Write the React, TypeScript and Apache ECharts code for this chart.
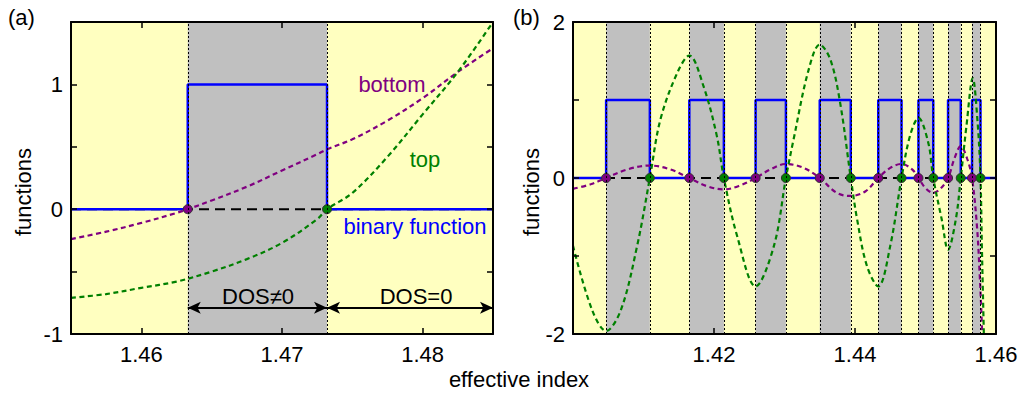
import React, { useEffect, useRef } from "react";
import * as echarts from "echarts";

// ---------- Panel (a) ----------
const aXRange = [1.455, 1.485];
const aYRange = [-1, 1.5];
const aXTicks = [1.46, 1.47, 1.48];
const aYTicks = [-1, -0.5, 0, 0.5, 1];
const aYLabels = [-1, 0, 1];
const aBand = [1.4633, 1.4732]; // bottom zero, top zero
const aArrowY = -0.79;

const aBottomX = [1.455, 1.4575, 1.46, 1.4625, 1.4633, 1.465, 1.4675, 1.47, 1.4725, 1.4732, 1.475, 1.4775, 1.48, 1.4825, 1.485];
const aBottomY = [-0.24, -0.18, -0.11, -0.03, 0, 0.07, 0.18, 0.31, 0.44, 0.48, 0.56, 0.71, 0.89, 1.1, 1.29];

const aTopX = [1.455, 1.4575, 1.46, 1.4625, 1.465, 1.4675, 1.47, 1.4725, 1.4732, 1.475, 1.4775, 1.48, 1.4825, 1.485];
const aTopY = [-0.71, -0.68, -0.63, -0.58, -0.5, -0.4, -0.27, -0.08, 0, 0.13, 0.42, 0.76, 1.1, 1.5];

// ---------- Panel (b) ----------
const bXRange = [1.4, 1.46];
const bYRange = [-2, 2];
const bXTicks = [1.42, 1.44, 1.46];
const bYTicks = [-2, -1, 0, 1, 2];
const bYLabels = [-2, 0, 2];
const bBottomZeros = [1.4047, 1.4165, 1.4259, 1.435, 1.4433, 1.449, 1.4532, 1.4566];
const bTopZeros = [1.4109, 1.4214, 1.4302, 1.4394, 1.4466, 1.4511, 1.455, 1.4578];

const bTopX = [1.4, 1.4027, 1.4047, 1.4068, 1.4091, 1.4109, 1.4124, 1.4148, 1.4165, 1.4185, 1.4204, 1.4214, 1.4233, 1.4259, 1.4285, 1.4302, 1.4313, 1.4334, 1.435, 1.4365, 1.4379, 1.4394, 1.4403, 1.4417, 1.4433, 1.445, 1.4466, 1.4478, 1.449, 1.4504, 1.4511, 1.4523, 1.4532, 1.4543, 1.455, 1.4558, 1.4567, 1.4574, 1.4578, 1.458, 1.4582, 1.4584];
const bTopY = [-0.87, -1.69, -1.96, -1.69, -0.87, 0, 0.75, 1.35, 1.57, 1.18, 0.54, 0, -0.75, -1.39, -0.87, 0, 0.5, 1.38, 1.71, 1.52, 0.96, 0, -0.53, -1.13, -1.39, -0.87, 0, 0.54, 0.77, 0.45, 0, -0.53, -0.92, -0.53, 0, 0.66, 1.28, 0.7, 0, -0.9, -1.7, -2.5];

const bBottomX = [1.4, 1.4025, 1.4047, 1.4077, 1.4109, 1.4138, 1.4165, 1.419, 1.4214, 1.4237, 1.4259, 1.428, 1.4302, 1.4327, 1.435, 1.4374, 1.4394, 1.4415, 1.4433, 1.445, 1.4466, 1.4481, 1.449, 1.45, 1.4511, 1.4521, 1.4532, 1.4541, 1.455, 1.4559, 1.4566, 1.4573, 1.4577, 1.458, 1.4582];
const bBottomY = [-0.14, -0.08, 0, 0.11, 0.16, 0.11, 0, -0.105, -0.147, -0.096, 0, 0.11, 0.18, 0.13, 0, -0.19, -0.23, -0.17, 0, 0.13, 0.18, 0.11, 0, -0.13, -0.19, -0.14, 0, 0.25, 0.41, 0.25, 0, -0.62, -1.26, -1.9, -2.6];

// ---------- styles ----------
const FONT = "'Liberation Sans', Arial, Helvetica, sans-serif";
const YELLOW = "#FFFFC0";
const GRAY = "#C0C0C0";
const BLUE = "#0000FF";
const PURPLE = "#800080";
const GREEN = "#008000";

const zip = (xs: number[], ys: number[]) => xs.map((x, i) => [x, ys[i]]);

function binary(range: number[], lefts: number[], rights: number[]) {
  const pts: number[][] = [[range[0], 0]];
  lefts.forEach((l, i) => {
    const r = rights[i];
    pts.push([l, 0], [l, 1], [r, 1], [r, 0]);
  });
  pts.push([range[1], 0]);
  return pts;
}

function xAxes(gridIndex: number, range: number[], ticks: number[], labels: number[]) {
  const common = {
    type: "value",
    gridIndex,
    min: range[0],
    max: range[1],
    z: 10,
    splitLine: { show: false },
    axisLine: { show: true, onZero: false, lineStyle: { color: "#000", width: 2 } },
    axisTick: { show: true, inside: true, length: 6, customValues: ticks, lineStyle: { color: "#000", width: 1.5 } },
  };
  return [
    {
      ...common,
      position: "bottom",
      axisLabel: {
        show: true,
        customValues: labels,
        formatter: (v: number) => v.toFixed(2),
        fontSize: 22,
        fontFamily: FONT,
        color: "#000",
        margin: 9,
      },
    },
    { ...common, position: "top", axisLabel: { show: false } },
  ];
}

function yAxes(gridIndex: number, range: number[], ticks: number[], labels: number[]) {
  const common = {
    type: "value",
    gridIndex,
    min: range[0],
    max: range[1],
    z: 10,
    splitLine: { show: false },
    axisLine: { show: true, onZero: false, lineStyle: { color: "#000", width: 2 } },
    axisTick: { show: true, inside: true, length: 6, customValues: ticks, lineStyle: { color: "#000", width: 1.5 } },
  };
  return [
    {
      ...common,
      position: "left",
      axisLabel: {
        show: true,
        customValues: labels,
        formatter: (v: number) => String(v),
        fontSize: 22,
        fontFamily: FONT,
        color: "#000",
        margin: 8,
      },
    },
    { ...common, position: "right", axisLabel: { show: false } },
  ];
}

function panelSeries(
  xi: number,
  yi: number,
  range: number[],
  lefts: number[],
  rights: number[],
  bottom: number[][],
  top: number[][]
) {
  const edges = [...lefts, ...rights];
  return [
    {
      type: "line",
      xAxisIndex: xi,
      yAxisIndex: yi,
      z: 1,
      silent: true,
      symbol: "none",
      data: [[range[0], 0], [range[1], 0]],
      lineStyle: { color: "#000", width: 2, type: [10, 6] },
      markArea: {
        silent: true,
        itemStyle: { color: GRAY },
        data: lefts.map((l, i) => [{ xAxis: l }, { xAxis: rights[i] }]),
      },
      markLine: {
        silent: true,
        precision: 6,
        symbol: "none",
        label: { show: false },
        lineStyle: { color: "#000", width: 1, type: [2, 2] },
        data: edges.map((x) => ({ xAxis: x })),
      },
    },
    {
      type: "line",
      xAxisIndex: xi,
      yAxisIndex: yi,
      z: 2,
      silent: true,
      symbol: "none",
      data: binary(range, lefts, rights),
      lineStyle: { color: BLUE, width: 2.5 },
    },
    {
      type: "line",
      xAxisIndex: xi,
      yAxisIndex: yi,
      z: 3,
      silent: true,
      symbol: "none",
      smooth: 0.35,
      data: bottom,
      lineStyle: { color: PURPLE, width: 2.2, type: [5, 3.5] },
    },
    {
      type: "line",
      xAxisIndex: xi,
      yAxisIndex: yi,
      z: 3,
      silent: true,
      symbol: "none",
      smooth: 0.35,
      data: top,
      lineStyle: { color: GREEN, width: 2.2, type: [5, 3.5] },
    },
    {
      type: "scatter",
      xAxisIndex: xi,
      yAxisIndex: yi,
      z: 4,
      silent: true,
      symbolSize: 9,
      data: lefts.map((x) => [x, 0]),
      itemStyle: { color: PURPLE, borderColor: "#333", borderWidth: 1, opacity: 1 },
    },
    {
      type: "scatter",
      xAxisIndex: xi,
      yAxisIndex: yi,
      z: 4,
      silent: true,
      symbolSize: 9,
      data: rights.map((x) => [x, 0]),
      itemStyle: { color: GREEN, borderColor: "#333", borderWidth: 1, opacity: 1 },
    },
  ];
}

const txt = (text: string, x: number, y: number, color = "#000", extra: any = {}) => ({
  type: "text",
  x,
  y,
  z: 20,
  silent: true,
  ...extra,
  style: {
    text,
    fill: color,
    font: `22px ${FONT}`,
    textAlign: "center",
    textVerticalAlign: "middle",
    ...(extra.style || {}),
  },
});

export default function App() {
  const ref = useRef<HTMLDivElement>(null);

  useEffect(() => {
    if (!ref.current) return;
    const chart = echarts.init(ref.current, null, { renderer: "svg" });

    const arrowSeries = {
      type: "line",
      xAxisIndex: 0,
      yAxisIndex: 0,
      z: 5,
      silent: true,
      symbol: "none",
      data: [],
      markLine: {
        silent: true,
        precision: 6,
        symbol: ["arrow", "arrow"],
        symbolSize: [9, 13],
        label: { show: false },
        lineStyle: { color: "#000", width: 2, type: "solid" },
        data: [
          [{ coord: [aBand[0], aArrowY] }, { coord: [aBand[1], aArrowY] }],
          [{ coord: [aBand[1], aArrowY] }, { coord: [aXRange[1], aArrowY] }],
        ],
      },
    };

    const option = {
      animation: false,
      backgroundColor: "#fff",
      textStyle: { fontFamily: FONT },
      grid: [
        { left: 71, top: 22, width: 422, height: 312, show: true, backgroundColor: YELLOW, borderWidth: 0 },
        { left: 573, top: 22, width: 423, height: 312, show: true, backgroundColor: YELLOW, borderWidth: 0 },
      ],
      xAxis: [...xAxes(0, aXRange, aXTicks, aXTicks), ...xAxes(1, bXRange, bXTicks, bXTicks)],
      yAxis: [...yAxes(0, aYRange, aYTicks, aYLabels), ...yAxes(1, bYRange, bYTicks, bYLabels)],
      series: [
        ...panelSeries(0, 0, aXRange, [aBand[0]], [aBand[1]], zip(aBottomX, aBottomY), zip(aTopX, aTopY)),
        ...panelSeries(2, 2, bXRange, bBottomZeros, bTopZeros, zip(bBottomX, bBottomY), zip(bTopX, bTopY)),
        arrowSeries,
      ],
      graphic: [
        txt("(a)", 8, 17, "#000", { style: { textAlign: "left" } }),
        txt("(b)", 513, 17, "#000", { style: { textAlign: "left" } }),
        txt("functions", 23, 192, "#000", { rotation: Math.PI / 2 }),
        txt("functions", 531, 192, "#000", { rotation: Math.PI / 2 }),
        txt("effective index", 519, 379),
        txt("bottom", 392, 84, PURPLE),
        txt("top", 425, 159, GREEN),
        txt("binary function", 415, 226, BLUE),
        txt("DOS\u22600", 258, 296),
        txt("DOS=0", 416, 296),
      ],
    };

    chart.setOption(option as any);
    return () => chart.dispose();
  }, []);

  return (
    <div
      ref={ref}
      style={{ position: "fixed", left: 0, top: 0, width: 1021, height: 394, background: "#fff" }}
    />
  );
}
